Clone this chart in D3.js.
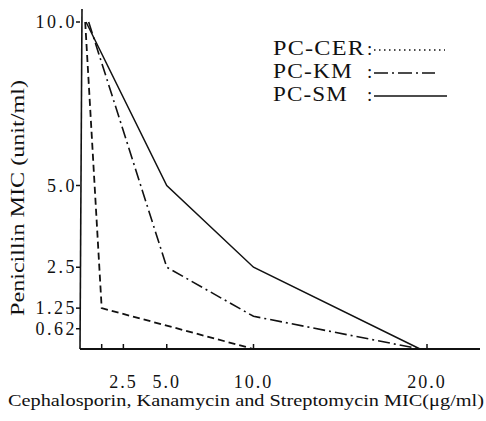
<!DOCTYPE html>
<html>
<head>
<meta charset="utf-8">
<script src="https://cdn.jsdelivr.net/npm/d3@7"></script>
<style>
  body { margin: 0; background: #fff; }
  text { font-family: "Liberation Serif", "DejaVu Serif", serif; fill: #111; }
</style>
</head>
<body>
<svg id="chart" width="486" height="421"></svg>
<script>
// data
const cerData = [[0.3, 10], [1.25, 1.25], [10, 0]];
const kmData = [[0.5, 10], [5, 2.5], [10, 1.0], [19.6, 0]];
const smData = [[0.35, 10], [5, 5.0], [10, 2.5], [19.6, 0]];

const xTicks = [1.25, 2.5, 5, 10, 20];
const xTickLabels = ["", "2.5", "5.0", "10.0", "20.0"];
const yTicks = [0.62, 1.25, 2.5, 5, 10];
const yTickLabels = ["0.62", "1.25", "2.5", "5.0", "10.0"];

const legendNames = ["PC-CER", "PC-KM", "PC-SM"];

const svg = d3.select("#chart");

const xScale = d3.scaleLinear().domain([0, 20]).range([80, 427]);
const yScale = d3.scaleLinear().domain([0, 10]).range([349, 22]);

// axes lines
svg.append("line") // x axis
    .attr("x1", xScale(0)).attr("x2", 480)
    .attr("y1", yScale(0)).attr("y2", yScale(0))
    .style("stroke", "#111").style("stroke-width", 2);
svg.append("line") // y axis
    .attr("x1", xScale(0)).attr("x2", xScale(0) + 2)
    .attr("y1", yScale(0)).attr("y2", yScale(10.4))
    .style("stroke", "#111").style("stroke-width", 1.6);

// x ticks (pointing up)
svg.selectAll(".xtick")
    .data(xTicks)
    .enter()
    .append("line")
    .attr("class", "xtick")
    .attr("x1", d => xScale(d)).attr("x2", d => xScale(d))
    .attr("y1", yScale(0)).attr("y2", yScale(0) - 5)
    .style("stroke", "#111").style("stroke-width", 1.5);

svg.selectAll(".xlabel")
    .data(xTicks)
    .enter()
    .append("text")
    .attr("class", "xlabel")
    .attr("x", d => xScale(d))
    .attr("y", 388)
    .attr("text-anchor", "middle")
    .style("font-size", "18px")
    .style("letter-spacing", "2px")
    .text((d, i) => xTickLabels[i]);

// y ticks (pointing left)
svg.selectAll(".ytick")
    .data(yTicks)
    .enter()
    .append("line")
    .attr("class", "ytick")
    .attr("x1", xScale(0) - 4).attr("x2", xScale(0))
    .attr("y1", d => yScale(d)).attr("y2", d => yScale(d))
    .style("stroke", "#111").style("stroke-width", 1.5);

svg.selectAll(".ylabel")
    .data(yTicks)
    .enter()
    .append("text")
    .attr("class", "ylabel")
    .attr("x", xScale(0) - 3)
    .attr("y", d => yScale(d) + 6)
    .attr("text-anchor", "end")
    .style("font-size", "18px")
    .style("letter-spacing", "2.5px")
    .text((d, i) => yTickLabels[i]);

// axis titles
svg.append("text")
    .attr("transform", "translate(24,198) rotate(-90)")
    .attr("text-anchor", "middle")
    .attr("textLength", 236)
    .attr("lengthAdjust", "spacingAndGlyphs")
    .style("font-size", "19px")
    .text("Penicillin  MIC (unit/ml)");

svg.append("text")
    .attr("x", 8).attr("y", 406)
    .attr("textLength", 476)
    .attr("lengthAdjust", "spacingAndGlyphs")
    .style("font-size", "17px")
    .text("Cephalosporin, Kanamycin and Streptomycin MIC(\u03bcg/ml)");

// series lines
const line = d3.line()
    .x(d => xScale(d[0]))
    .y(d => yScale(d[1]));

const series = [
    { data: cerData, dash: "7,4", width: 1.8 },
    { data: kmData, dash: "12,4,2,4", width: 1.6 },
    { data: smData, dash: null, width: 1.5 }
];

svg.selectAll(".series")
    .data(series)
    .enter()
    .append("path")
    .attr("class", "series")
    .attr("d", d => line(d.data))
    .style("fill", "none")
    .style("stroke", "#111")
    .style("stroke-width", d => d.width)
    .style("stroke-dasharray", d => d.dash);

// legend
const legendDash = ["1.5,3.5", "14,4,2,4", null];
const legendWidth = [92, 80, 75];
const legendEnd = [445, 435, 447];
const legend = svg.selectAll(".legend")
    .data(legendNames)
    .enter()
    .append("g")
    .attr("class", "legend")
    .attr("transform", (d, i) => `translate(273,${55 + i * 23})`);

legend.append("text")
    .attr("x", 0).attr("y", 0)
    .attr("textLength", (d, i) => legendWidth[i])
    .attr("lengthAdjust", "spacingAndGlyphs")
    .style("font-size", "20px")
    .style("letter-spacing", "1px")
    .text(d => d);

legend.append("text")
    .attr("x", 94).attr("y", 0)
    .style("font-size", "19px")
    .text(":");

legend.append("line")
    .attr("x1", 101).attr("x2", (d, i) => legendEnd[i] - 273)
    .attr("y1", -5).attr("y2", -5)
    .style("stroke", "#111")
    .style("stroke-width", 1.5)
    .style("stroke-dasharray", (d, i) => legendDash[i]);
</script>
</body>
</html>
